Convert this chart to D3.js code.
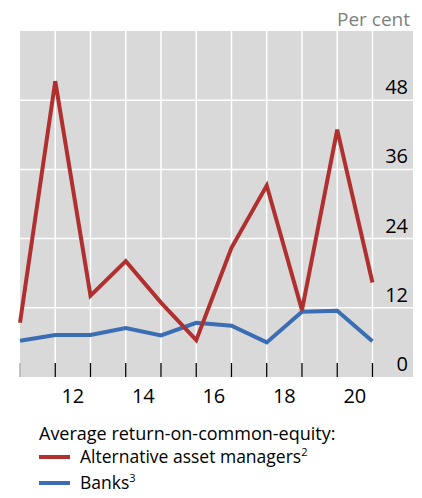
<!DOCTYPE html>
<html>
<head>
<meta charset="utf-8">
<script src="https://cdn.jsdelivr.net/npm/d3@7"></script>
<style>
  html, body { margin: 0; padding: 0; background: #fff; }
  svg { display: block; font-family: "Open Sans", "Noto Sans", sans-serif; }
</style>
</head>
<body>
<svg id="chart" width="422" height="498"></svg>
<script>
// Annual observations, plotted at each year-end
const years = [2010, 2011, 2012, 2013, 2014, 2015, 2016, 2017, 2018, 2019, 2020];
const altManagers = [9.4, 51.3, 14.1, 20.1, 12.9, 6.4, 22.4, 33.2, 11.6, 42.9, 16.4];
const banks = [6.3, 7.3, 7.3, 8.5, 7.2, 9.4, 8.9, 6.0, 11.3, 11.5, 6.2];
const xTickYears = [2012, 2014, 2016, 2018, 2020];
const xTickLabels = ["12", "14", "16", "18", "20"];
const yTicks = [0, 12, 24, 36, 48];

const svg = d3.select("#chart");
const plot = { left: 20, right: 413, top: 31, bottom: 377 };

const x = d3.scaleLinear().domain([2011, 2022.15]).range([plot.left, plot.right]);
const y = d3.scaleLinear().domain([0, 60]).range([plot.bottom, plot.top]);
const xPos = yr => x(yr + 1);

// panel background
svg.append("rect")
  .attr("x", plot.left).attr("y", plot.top)
  .attr("width", plot.right - plot.left).attr("height", plot.bottom - plot.top)
  .attr("fill", "#d9d9d9");

// vertical year gridlines
const yearLines = d3.range(2012, 2022);
svg.append("g").selectAll("line").data(yearLines).join("line")
  .attr("x1", d => x(d)).attr("x2", d => x(d))
  .attr("y1", plot.top).attr("y2", plot.bottom)
  .attr("stroke", "#fff").attr("stroke-width", 1.5);

// horizontal gridlines
svg.append("g").selectAll("line").data(yTicks.filter(d => d > 0)).join("line")
  .attr("x1", plot.left).attr("x2", plot.right)
  .attr("y1", d => y(d)).attr("y2", d => y(d))
  .attr("stroke", "#fff").attr("stroke-width", 1.5);

// y labels, right side, sitting above each gridline
svg.append("g").selectAll("text").data(yTicks).join("text")
  .attr("x", 408).attr("y", d => y(d) - 6)
  .attr("text-anchor", "end")
  .attr("font-size", 20).attr("fill", "#000")
  .text(d => d);

svg.append("text")
  .attr("x", 410).attr("y", 26)
  .attr("text-anchor", "end")
  .attr("font-size", 19).attr("fill", "#7f7f7f")
  .text("Per cent");

// year-boundary ticks along the bottom
svg.append("g").selectAll("line").data(yearLines).join("line")
  .attr("x1", d => x(d)).attr("x2", d => x(d))
  .attr("y1", plot.bottom - 14).attr("y2", plot.bottom)
  .attr("stroke", "#000").attr("stroke-width", 1.3);
svg.append("line")
  .attr("x1", x(2011)).attr("x2", x(2011))
  .attr("y1", plot.bottom - 14).attr("y2", plot.bottom)
  .attr("stroke", "#aaa").attr("stroke-width", 1.3);

// x labels centred on each year
svg.append("g").selectAll("text").data(xTickYears).join("text")
  .attr("x", d => x(d + 0.5)).attr("y", 403)
  .attr("text-anchor", "middle")
  .attr("font-size", 20).attr("fill", "#000")
  .text((d, i) => xTickLabels[i]);

// series lines
const line = d3.line().x((d, i) => xPos(years[i])).y(d => y(d));
svg.append("path").datum(banks)
  .attr("d", line).attr("fill", "none")
  .attr("stroke", "#3a6db3").attr("stroke-width", 4).attr("stroke-linejoin", "miter");
svg.append("path").datum(altManagers)
  .attr("d", line).attr("fill", "none")
  .attr("stroke", "#b0302f").attr("stroke-width", 4).attr("stroke-linejoin", "miter");

// legend
const legend = svg.append("g");
legend.append("text").attr("x", 39).attr("y", 440)
  .attr("font-size", 18).attr("fill", "#000")
  .text("Average return-on-common-equity:");
const items = [
  { name: "Alternative asset managers", note: "2", color: "#b0302f", y: 457 },
  { name: "Banks", note: "3", color: "#3a6db3", y: 483 }
];
items.forEach(it => {
  legend.append("line")
    .attr("x1", 39).attr("x2", 70).attr("y1", it.y).attr("y2", it.y)
    .attr("stroke", it.color).attr("stroke-width", 4);
  const t = legend.append("text").attr("x", 80).attr("y", it.y + 6)
    .attr("font-size", 17.5).attr("fill", "#000");
  t.append("tspan").text(it.name);
  t.append("tspan").attr("dy", -7).attr("font-size", 11).text(it.note);
});
</script>
</body>
</html>
